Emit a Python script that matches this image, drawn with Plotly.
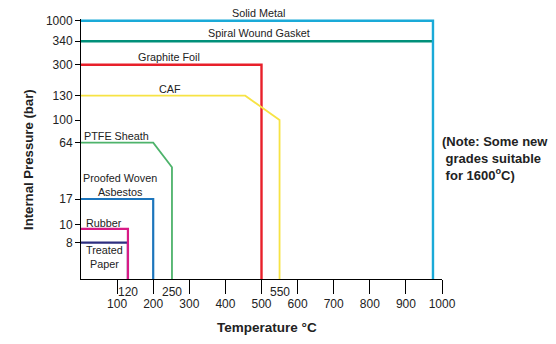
import numpy as np
import plotly.graph_objects as go

# ---------------- data ----------------
# pressure tick labels (bar) and their positions on the (non-uniform) pressure scale
pressure_ticks = [8, 10, 17, 64, 100, 130, 300, 340, 1000]
pressure_tick_pos = [36.3, 54.7, 80.0, 136.3, 159.0, 183.3, 214.3, 237.8, 258.2]

temp_ticks = [100, 200, 300, 400, 500, 600, 700, 800, 900, 1000]
extra_temp_labels = ["120", "250", "550"]
extra_temp_pos = [130, 252, 550]

series_names = ["Spiral Wound Gasket", "Solid Metal", "Graphite Foil", "CAF",
                "PTFE Sheath", "Proofed Woven Asbestos", "Treated Paper", "Rubber"]
treated_paper_t = [0, 130, 130]
treated_paper_p = [8, 8, 0]
rubber_t = [0, 130, 130]
rubber_p = [9.5, 9.5, 0]
asbestos_t = [0, 200, 200]
asbestos_p = [17, 17, 0]
ptfe_t = [0, 200, 252, 252]
ptfe_p = [64, 64, 43.5, 0]
caf_t = [0, 455, 550, 550]
caf_p = [130, 130, 100, 0]
graphite_t = [0, 500, 500]
graphite_p = [300, 300, 0]
spiral_t = [0, 975]
spiral_p = [340, 340]
metal_t = [0, 975, 975]
metal_p = [1000, 1000, 0]


def ppos(p):
    return np.interp(p, [0] + pressure_ticks, [0] + pressure_tick_pos)


styles = {
    "Treated Paper": ("#2E2F80", 2.2),
    "Rubber": ("#D81B86", 2.2),
    "Proofed Woven Asbestos": ("#1C75BC", 2.2),
    "PTFE Sheath": ("#4DB36B", 1.8),
    "CAF": ("#F7E344", 1.8),
    "Graphite Foil": ("#E8202A", 2.4),
    "Spiral Wound Gasket": ("#00907A", 2.4),
    "Solid Metal": ("#1AAAD8", 2.4),
}
series = {
    "Treated Paper": (treated_paper_t, treated_paper_p),
    "Rubber": (rubber_t, rubber_p),
    "Proofed Woven Asbestos": (asbestos_t, asbestos_p),
    "PTFE Sheath": (ptfe_t, ptfe_p),
    "CAF": (caf_t, caf_p),
    "Graphite Foil": (graphite_t, graphite_p),
    "Spiral Wound Gasket": (spiral_t, spiral_p),
    "Solid Metal": (metal_t, metal_p),
}

fig = go.Figure()
for name in series_names:
    t, p = series[name]
    col, w = styles[name]
    fig.add_trace(go.Scatter(x=t, y=ppos(p), mode="lines", name=name,
                             line=dict(color=col, width=w), showlegend=False,
                             hoverinfo="skip"))

FONT = "Liberation Sans, Arial, sans-serif"
label_font = dict(family=FONT, size=10.8, color="#222")

Y_TOP = 260.0

# series labels: (text, x temp, pressure of line, yshift)
labels = [
    ("Solid Metal", 493, 1000, 8),
    ("Spiral Wound Gasket", 493, 340, 8),
    ("Graphite Foil", 244, 300, 8),
    ("CAF", 247, 130, 7),
    ("PTFE Sheath", 97, 64, 7),
    ("Proofed Woven<br>Asbestos", 109, 17, 14),
    ("Rubber", 64, 9.5, 6),
    ("Treated<br>Paper", 64, 8, -14),
]
annotations = []
for txt, x, p, ys in labels:
    annotations.append(dict(text=txt, x=x, y=float(ppos(p)), xref="x", yref="y",
                            xanchor="center", yanchor="middle", yshift=ys,
                            showarrow=False, font=label_font))

for txt, x in zip(extra_temp_labels, extra_temp_pos):
    annotations.append(dict(text=txt, x=x, y=0, xref="x", yref="paper",
                            xanchor="center", yanchor="middle", yshift=-13,
                            showarrow=False,
                            font=dict(family=FONT, size=12, color="#222")))

annotations.append(dict(
    text="<b>(Note: Some new<br>\u00a0grades suitable<br>\u00a0for 1600<sup>o</sup>C)</b>",
    x=0.995, y=120.7 / Y_TOP, xref="paper", yref="paper", xanchor="left",
    yanchor="middle", align="left", showarrow=False,
    font=dict(family=FONT, size=13, color="#222")))

annotations.append(dict(text="<b>Internal Pressure (bar)</b>", x=0, xref="paper",
                        xshift=-53, y=119 / Y_TOP, yref="paper", textangle=-90,
                        xanchor="center", yanchor="middle", showarrow=False,
                        font=dict(family=FONT, size=13.2, color="#222")))
annotations.append(dict(text="<b>Temperature °C</b>", x=0.515, xref="paper", y=0,
                        yref="paper", yshift=-48, xanchor="center", yanchor="middle",
                        showarrow=False, font=dict(family=FONT, size=13.5, color="#222")))

fig.update_layout(
    width=556, height=344,
    margin=dict(l=81, r=114, t=19, b=65),
    paper_bgcolor="white", plot_bgcolor="white",
    annotations=annotations,
    xaxis=dict(range=[0, 1000], tickvals=temp_ticks, ticktext=[str(v) for v in temp_ticks],
               ticks="outside", ticklen=14, tickcolor="black", tickwidth=1,
               showline=True, linecolor="black", linewidth=1, showgrid=False,
               zeroline=False, tickfont=dict(family=FONT, size=12, color="#222")),
    yaxis=dict(range=[0, Y_TOP], tickvals=pressure_tick_pos,
               ticktext=[str(v) for v in pressure_ticks],
               ticks="outside", ticklen=5, tickcolor="black", tickwidth=1,
               showline=True, linecolor="black", linewidth=1, showgrid=False,
               zeroline=False, tickfont=dict(family=FONT, size=12, color="#222")),
)

fig.write_html("out.html")
